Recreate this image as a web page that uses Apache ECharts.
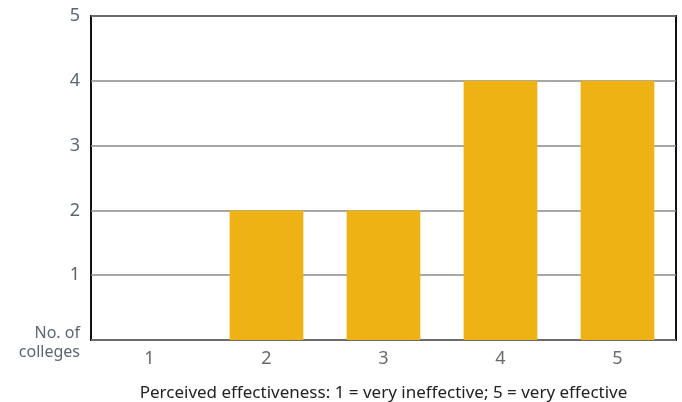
<!DOCTYPE html>
<html>
<head>
<meta charset="utf-8">
<script src="https://cdn.jsdelivr.net/npm/echarts@6/dist/echarts.min.js"></script>
<style>
  html, body { margin: 0; padding: 0; background: #fff; }
  #chart { width: 682px; height: 402px; }
</style>
</head>
<body>
<div id="chart"></div>
<script>
// Effectiveness ratings (1-5) and how many colleges gave each rating
const ratings = ['1', '2', '3', '4', '5'];
const collegeCounts = [0, 2, 2, 4, 4];
const countTicks = [0, 1, 2, 3, 4, 5];

const chart = echarts.init(document.getElementById('chart'), null, { renderer: 'canvas' });
const FONT = '"Noto Sans", sans-serif';

chart.setOption({
  animation: false,
  grid: {
    left: 91, right: 6, top: 16, bottom: 62,
    outerBoundsMode: 'none',
    containLabel: false,
    show: true, borderColor: '#111', borderWidth: 2, backgroundColor: 'transparent'
  },
  xAxis: {
    type: 'category',
    data: ratings,
    axisLine: { show: false },
    axisTick: { show: false },
    axisLabel: { fontSize: 18, color: '#6a6a6a', margin: 10, fontFamily: FONT },
    name: 'Perceived effectiveness: 1 = very ineffective; 5 = very effective',
    nameLocation: 'middle',
    nameGap: 45,
    nameTextStyle: { fontSize: 17, color: '#222', fontFamily: FONT }
  },
  yAxis: {
    type: 'value',
    min: countTicks[0],
    max: countTicks[countTicks.length - 1],
    interval: 1,
    axisLine: { show: false },
    axisTick: { show: false },
    splitLine: { lineStyle: { color: '#8a8a8a', width: 1.5 } },
    axisLabel: {
      margin: 11,
      fontFamily: FONT,
      fontSize: 18,
      color: '#5d6670',
      formatter: v => v === 0 ? '{s|No. of}\n{s|colleges}' : String(v),
      rich: { s: { fontSize: 16, lineHeight: 19, color: '#5d6670', fontFamily: FONT, align: 'right', padding: [5, 0, 0, 0] } }
    }
  },
  series: [{
    type: 'bar',
    data: collegeCounts,
    barCategoryGap: '37%',
    itemStyle: { color: '#EFB214' }
  }]
});
</script>
</body>
</html>
